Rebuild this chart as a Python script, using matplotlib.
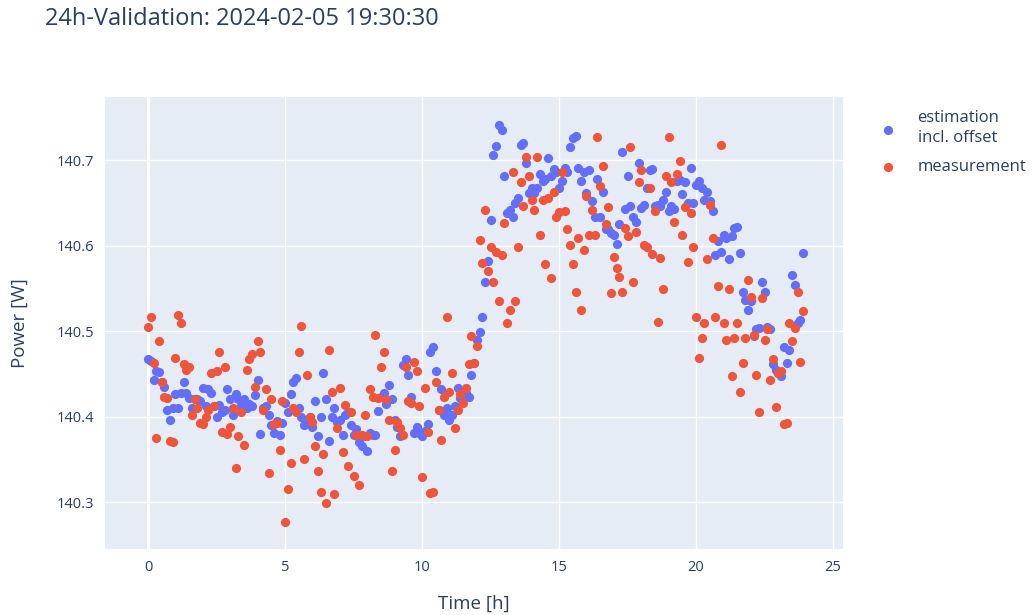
import numpy as np
import matplotlib
matplotlib.use("Agg")
import matplotlib.pyplot as plt

# ---- data (10 samples per hour) ----
estimation = [
    140.467, 140.465, 140.443, 140.453, 140.452, 140.440, 140.435, 140.408, 140.396, 140.410,  # 0h
    140.426, 140.410, 140.428, 140.440, 140.428, 140.422, 140.410, 140.420, 140.420, 140.418,  # 1h
    140.434, 140.412, 140.432, 140.428, 140.412, 140.400, 140.414, 140.405, 140.408, 140.432,  # 2h
    140.420, 140.402, 140.426, 140.420, 140.412, 140.420, 140.410, 140.415, 140.412, 140.425,  # 3h
    140.443, 140.380, 140.410, 140.412, 140.402, 140.390, 140.381, 140.395, 140.379, 140.393,  # 4h
    140.416, 140.405, 140.426, 140.440, 140.445, 140.410, 140.400, 140.390, 140.393, 140.400,  # 5h
    140.388, 140.418, 140.377, 140.400, 140.451, 140.420, 140.371, 140.400, 140.410, 140.394,  # 6h
    140.396, 140.379, 140.402, 140.405, 140.390, 140.379, 140.385, 140.370, 140.365, 140.377,  # 7h
    140.360, 140.381, 140.379, 140.378, 140.406, 140.423, 140.428, 140.415, 140.437, 140.420,  # 8h
    140.396, 140.388, 140.377, 140.460, 140.467, 140.449, 140.423, 140.381, 140.388, 140.381,  # 9h
    140.377, 140.383, 140.391, 140.476, 140.481, 140.453, 140.408, 140.432, 140.402, 140.410,  # 10h
    140.396, 140.402, 140.412, 140.434, 140.422, 140.423, 140.428, 140.423, 140.449, 140.463,  # 11h
    140.490, 140.499, 140.517, 140.558, 140.582, 140.630, 140.706, 140.717, 140.741, 140.735,  # 12h
    140.682, 140.638, 140.642, 140.634, 140.650, 140.656, 140.718, 140.720, 140.697, 140.662,  # 13h
    140.668, 140.662, 140.667, 140.684, 140.676, 140.678, 140.703, 140.681, 140.690, 140.686,  # 14h
    140.668, 140.676, 140.691, 140.686, 140.715, 140.726, 140.728, 140.691, 140.676, 140.686,  # 15h
    140.662, 140.689, 140.652, 140.634, 140.678, 140.633, 140.663, 140.620, 140.619, 140.615,  # 16h
    140.613, 140.602, 140.625, 140.710, 140.643, 140.681, 140.646, 140.634, 140.628, 140.697,  # 17h
    140.644, 140.648, 140.668, 140.689, 140.690, 140.646, 140.648, 140.646, 140.654, 140.663,  # 18h
    140.640, 140.646, 140.643, 140.676, 140.677, 140.661, 140.675, 140.650, 140.691, 140.650,  # 19h
    140.671, 140.676, 140.668, 140.654, 140.663, 140.652, 140.640, 140.589, 140.605, 140.593,  # 20h
    140.613, 140.609, 140.584, 140.611, 140.621, 140.622, 140.591, 140.546, 140.537, 140.525,  # 21h
    140.535, 140.494, 140.502, 140.504, 140.557, 140.546, 140.505, 140.502, 140.461, 140.455,  # 22h
    140.451, 140.447, 140.481, 140.463, 140.478, 140.566, 140.554, 140.510, 140.513, 140.592,  # 23h
]

measurement = [
    140.505, 140.516, 140.463, 140.375, 140.488, 140.441, 140.423, 140.422, 140.371, 140.370,  # 0h
    140.469, 140.519, 140.510, 140.461, 140.455, 140.458, 140.402, 140.420, 140.410, 140.393,  # 1h
    140.391, 140.400, 140.408, 140.451, 140.412, 140.453, 140.475, 140.382, 140.458, 140.380,  # 2h
    140.388, 140.410, 140.340, 140.377, 140.405, 140.367, 140.455, 140.467, 140.473, 140.435,  # 3h
    140.488, 140.476, 140.408, 140.432, 140.334, 140.420, 140.391, 140.393, 140.361, 140.418,  # 4h
    140.277, 140.315, 140.346, 140.410, 140.405, 140.476, 140.506, 140.350, 140.449, 140.400,  # 5h
    140.394, 140.365, 140.336, 140.312, 140.356, 140.299, 140.478, 140.429, 140.309, 140.387,  # 6h
    140.434, 140.359, 140.414, 140.342, 140.405, 140.330, 140.379, 140.320, 140.379, 140.402,  # 7h
    140.377, 140.432, 140.423, 140.496, 140.422, 140.458, 140.475, 140.420, 140.396, 140.336,  # 8h
    140.361, 140.394, 140.387, 140.379, 140.458, 140.418, 140.416, 140.464, 140.453, 140.412,  # 9h
    140.329, 140.434, 140.382, 140.311, 140.312, 140.441, 140.408, 140.373, 140.423, 140.516,  # 10h
    140.429, 140.451, 140.387, 140.408, 140.426, 140.416, 140.434, 140.461, 140.494, 140.463,  # 11h
    140.482, 140.607, 140.580, 140.642, 140.570, 140.599, 140.557, 140.593, 140.535, 140.589,  # 12h
    140.627, 140.510, 140.525, 140.686, 140.535, 140.598, 140.674, 140.646, 140.704, 140.681,  # 13h
    140.654, 140.642, 140.704, 140.613, 140.654, 140.578, 140.656, 140.562, 140.663, 140.633,  # 14h
    140.639, 140.686, 140.640, 140.620, 140.601, 140.578, 140.546, 140.609, 140.525, 140.595,  # 15h
    140.658, 140.613, 140.642, 140.612, 140.727, 140.670, 140.693, 140.625, 140.645, 140.545,  # 16h
    140.587, 140.574, 140.563, 140.546, 140.621, 140.611, 140.716, 140.557, 140.616, 140.675,  # 17h
    140.689, 140.601, 140.599, 140.667, 140.590, 140.640, 140.511, 140.586, 140.549, 140.681,  # 18h
    140.727, 140.675, 140.628, 140.684, 140.699, 140.613, 140.645, 140.581, 140.638, 140.599,  # 19h
    140.517, 140.468, 140.492, 140.510, 140.584, 140.648, 140.609, 140.517, 140.553, 140.718,  # 20h
    140.510, 140.490, 140.549, 140.447, 140.492, 140.510, 140.429, 140.463, 140.492, 140.560,  # 21h
    140.540, 140.496, 140.449, 140.405, 140.539, 140.490, 140.502, 140.443, 140.467, 140.411,  # 22h
    140.451, 140.453, 140.391, 140.393, 140.510, 140.488, 140.504, 140.546, 140.464, 140.523,  # 23h
]

# sampling grid: one sample every 6 minutes over 24 h
time_h = np.arange(len(estimation)) / 10.0

title = "24h-Validation: 2024-02-05 19:30:30"
x_label = "Time [h]"
y_label = "Power [W]"
labels = ["estimation\nincl. offset", "measurement"]
x_ticks = [0, 5, 10, 15, 20, 25]
y_ticks = [140.3, 140.4, 140.5, 140.6, 140.7]

# ---- style ----
plt.rcParams['font.family'] = ['Open Sans', 'DejaVu Sans']
txt = "#2a3f5f"
bg = "#E5ECF6"
c_est = "#636EFA"
c_meas = "#EF553B"

W, H = 1032, 615
fig = plt.figure(figsize=(W / 100, H / 100), dpi=100)
ax = fig.add_axes([105 / W, 1 - 549 / H, (843 - 105) / W, (549 - 97) / H])
ax.set_facecolor(bg)

ax.scatter(time_h, estimation, s=44, color=c_est, linewidths=0, label=labels[0], zorder=3)
ax.scatter(time_h, measurement, s=44, color=c_meas, linewidths=0, label=labels[1], zorder=3)

ax.set_xlim(-1.57, 25.36)
ax.set_ylim(140.245, 140.774)
ax.set_xticks(x_ticks)
ax.set_yticks(y_ticks)
ax.set_xticklabels([str(t) for t in x_ticks])
ax.set_yticklabels([f"{t:.1f}" for t in y_ticks])
ax.grid(True, color="white", linewidth=1.0, zorder=0)
ax.axvline(0, color="white", linewidth=2.2, zorder=1)
ax.set_axisbelow(True)
for sp in ax.spines.values():
    sp.set_visible(False)
ax.tick_params(axis="both", length=0, labelsize=10.5, colors=txt, pad=8)

ax.set_xlabel(x_label, fontsize=13.5, color=txt, labelpad=14)
ax.set_ylabel(y_label, fontsize=13.5, color=txt, labelpad=20)

fig.text(45 / W, 1 - 19 / H, title, fontsize=17, color=txt, ha="left", va="center")

leg = fig.legend(loc="upper left", bbox_to_anchor=(865 / W, 1 - 103 / H),
                 bbox_transform=fig.transFigure, frameon=False,
                 fontsize=12, labelcolor=txt, handletextpad=0.75, markerscale=1.0,
                 labelspacing=0.75, borderaxespad=0.0, borderpad=0.4)
for t in leg.get_texts():
    t.set_linespacing(1.4)

fig.savefig("out.png", dpi=100, facecolor="white")
